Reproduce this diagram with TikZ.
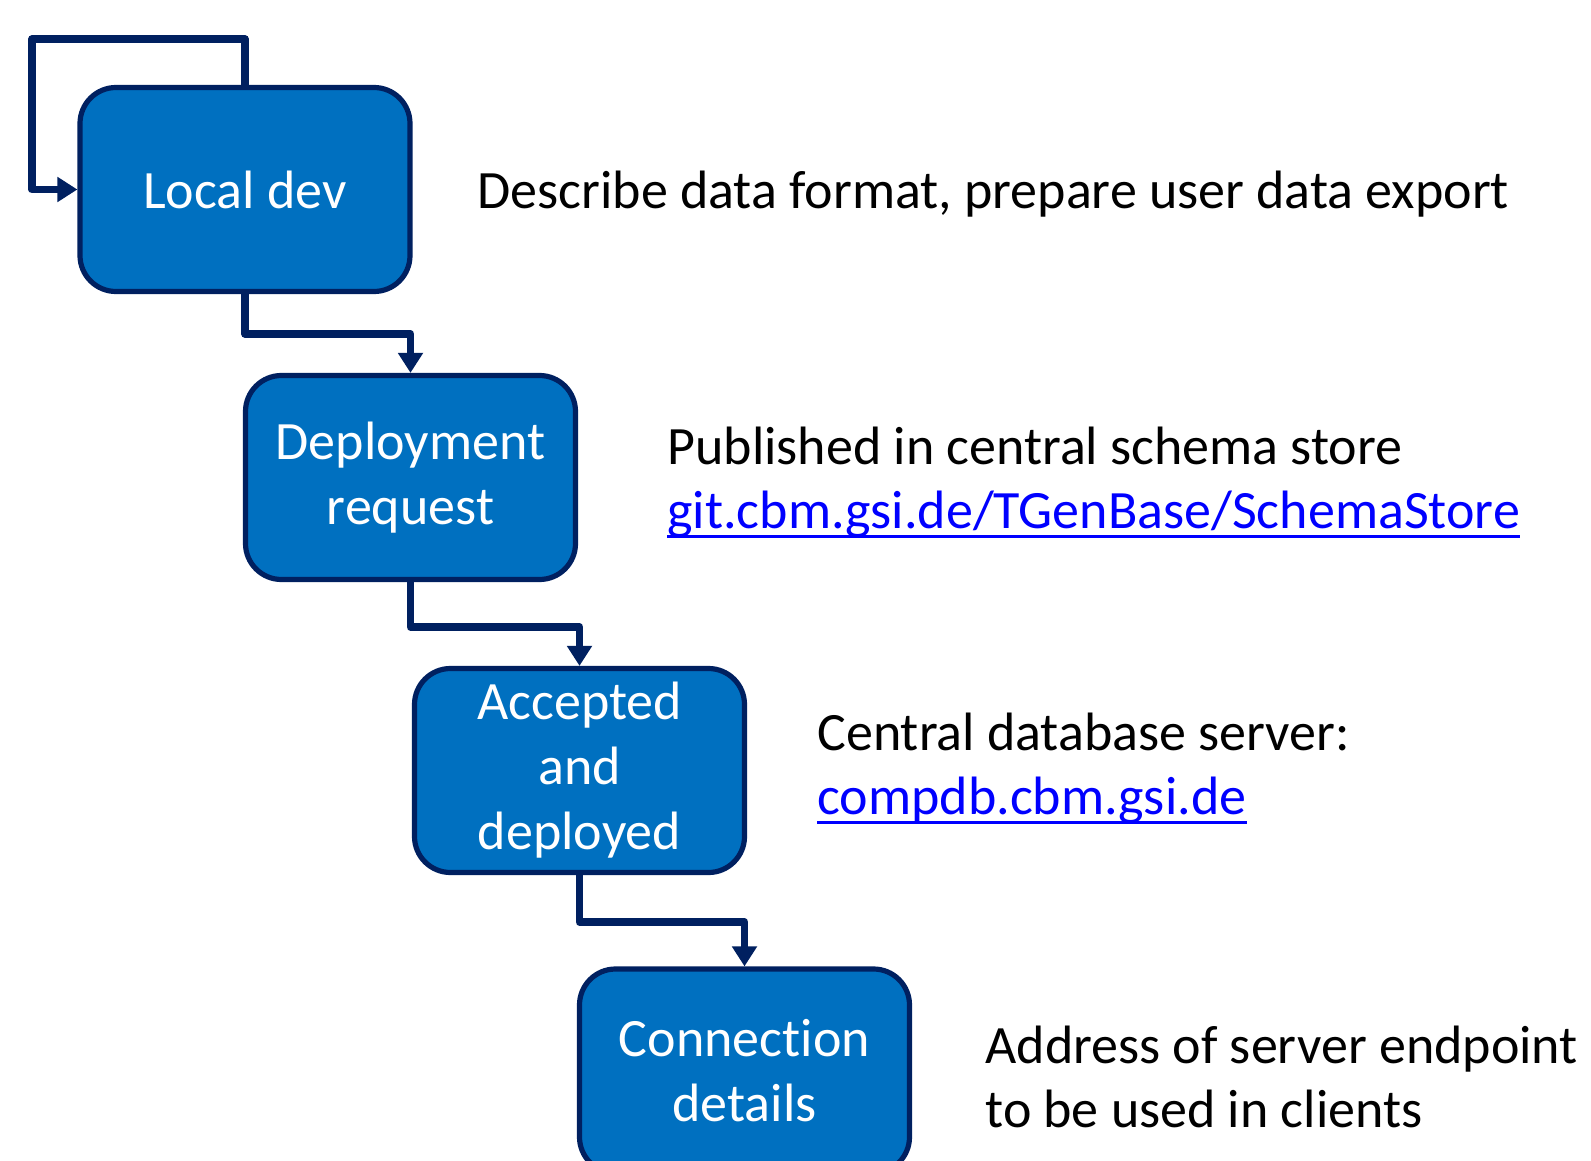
\documentclass[tikz,border=0pt]{standalone}
\usepackage{fontspec}
\setmainfont{Carlito}[Ligatures=NoCommon]
\usetikzlibrary{arrows.meta}
\definecolor{boxfill}{HTML}{0070C0}
\definecolor{navy}{HTML}{002060}
\definecolor{linkblue}{HTML}{0000FF}
\newcommand\linktext[1]{\textcolor{linkblue}{\setbox0\hbox{#1}\rlap{\rule[-5pt]{\wd0}{1.5pt}}\box0}}

\begin{document}
\begin{tikzpicture}[x=0.5pt,y=-0.5pt,stage/.style={rectangle,rounded corners=18pt,draw=navy,line width=2.6pt,fill=boxfill,minimum width=165pt,minimum height=102pt,inner sep=0pt,text=white,align=center,font=\fontsize{27}{32.5}\selectfont},note/.style={anchor=base west,align=left,inner sep=0pt,font=\fontsize{27}{32}\selectfont},flow/.style={draw=navy,line width=3.7pt,line join=round,-{Triangle[width=12pt,length=10pt]}}]
\useasboundingbox (0,0) rectangle (1591,1161);
\clip (0,0) rectangle (1591,1161);
\coordinate (A) at (245,189.5);
\coordinate (B) at (410.5,477.5);
\coordinate (C) at (579.5,770.5);
\coordinate (D) at (744.5,1071);
\coordinate (loop) at (32,39);
\coordinate (bendA) at (0,334);
\coordinate (bendB) at (0,627);
\coordinate (bendC) at (0,922);
\node[stage] (dev) at (A) {Local dev};
\node[stage] (req) at (B) {Deployment\\request};
\node[stage] (acc) at (C) {Accepted\\and\\deployed};
\node[stage] (conn) at (D) {Connection\\details};
\draw[flow] (dev.north) |- (loop) |- (dev.west);
\draw[flow] (dev.south) -- (dev.south |- bendA) -| (req.north);
\draw[flow] (req.south) -- (req.south |- bendB) -| (acc.north);
\draw[flow] (acc.south) -- (acc.south |- bendC) -| (conn.north);
\node[note] (devnote) at (477,208) {Describe data format, prepare user data export};
\node[note] (reqnote) at (667,528) {Published in central schema store\\\linktext{git.cbm.gsi.de/TGenBase/SchemaStore}};
\node[note] (accnote) at (817,814) {Central database server:\\\linktext{compdb.cbm.gsi.de}};
\node[note] (connnote) at (985,1127) {Address of server endpoint\\to be used in clients};
\end{tikzpicture}
\end{document}
